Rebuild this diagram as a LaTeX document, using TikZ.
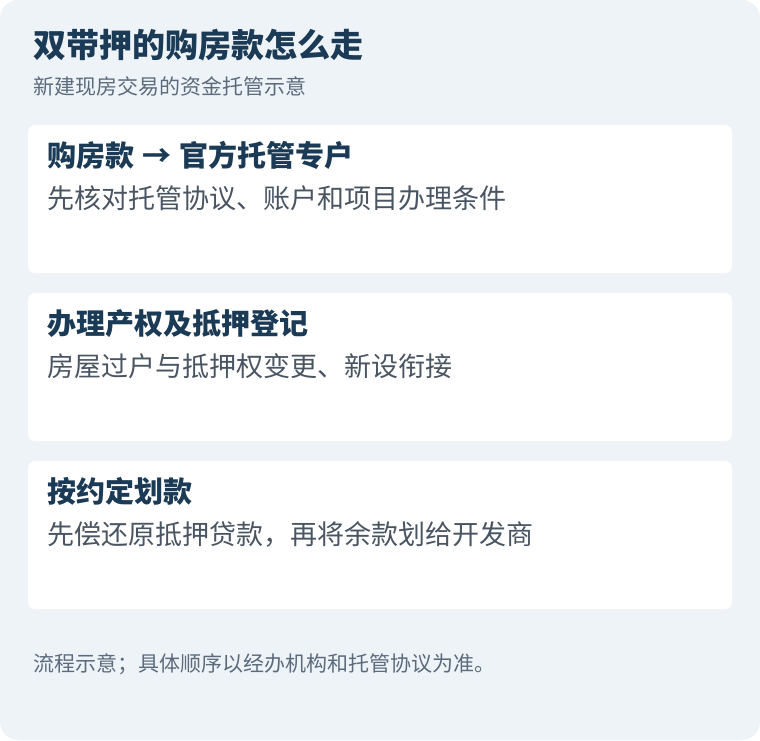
\documentclass[tikz,border=0pt]{standalone}
\usepackage{fontspec}
\setmainfont{Noto Sans CJK SC}
\definecolor{bgc}{HTML}{EEF3F8}
\definecolor{titlec}{HTML}{1B3A55}
\definecolor{subc}{HTML}{5B6B7C}
\definecolor{bodyc}{HTML}{4A5563}
\tikzset{
  card/.style={fill=white, rounded corners=7pt},
  cardtitle/.style={anchor=base west, inner sep=0pt, font=\fontsize{29}{33}\selectfont\bfseries, text=titlec},
  cardbody/.style={anchor=base west, inner sep=0pt, font=\fontsize{27}{32}\selectfont, text=bodyc},
  smalltext/.style={anchor=base west, inner sep=0pt, font=\fontsize{21}{25}\selectfont, text=subc},
}
\begin{document}
\begin{tikzpicture}[x=1pt,y=-1pt]
\useasboundingbox (0,0) rectangle (760,740);
\fill[bgc, rounded corners=18pt] (0,0) rectangle (760,740);
\node[anchor=base west, inner sep=0pt, font=\fontsize{33}{38}\selectfont\bfseries, text=titlec] (title) at (33,57) {双带押的购房款怎么走};
\node[smalltext] (sub) at (33,94) {新建现房交易的资金托管示意};
% cards
\fill[card] (28,125) rectangle (732,273);
\fill[card] (28,293) rectangle (732,441);
\fill[card] (28,461) rectangle (732,609);
\node[cardtitle] (t1) at (47,166) {购房款\hspace{8pt}→\hspace{8pt}官方托管专户};
\node[cardbody] (b1) at (47,208) {先核对托管协议、账户和项目办理条件};
\node[cardtitle] (t2) at (47,334) {办理产权及抵押登记};
\node[cardbody] (b2) at (47,376) {房屋过户与抵押权变更、新设衔接};
\node[cardtitle] (t3) at (47,502) {按约定划款};
\node[cardbody] (b3) at (47,544) {先偿还原抵押贷款，再将余款划给开发商};
\node[smalltext] (foot) at (33,671) {流程示意；具体顺序以经办机构和托管协议为准。};
\end{tikzpicture}
\end{document}
